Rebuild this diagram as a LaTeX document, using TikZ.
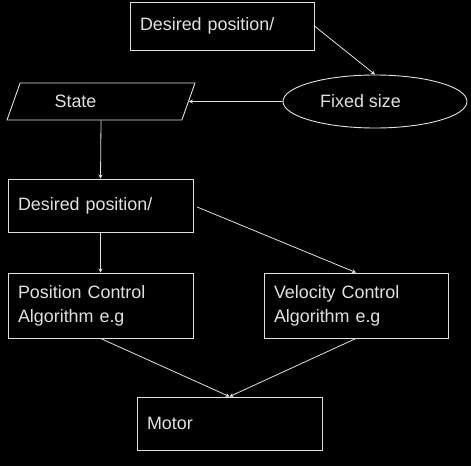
\documentclass[tikz,border=0pt]{standalone}
\usepackage{fontspec}
\setmainfont{Liberation Sans}
\usetikzlibrary{shapes.geometric,arrows.meta}
\definecolor{lc}{RGB}{225,225,225}
\begin{document}
\begin{tikzpicture}[x=1pt,y=-1pt,
  font=\fontsize{17.9}{24}\selectfont,
  every node/.style={text=lc},
  box/.style={draw=lc,line width=0.9pt,rectangle,align=left,inner xsep=10pt,inner ysep=0pt},
  conn/.style={draw=lc,line width=0.8pt,-{Stealth[length=4pt,width=4pt]}}]
\fill[black] (0,0) rectangle (471,466);
\useasboundingbox (0,0) rectangle (471,466);
\node[box,text width=164pt,minimum height=48pt] (b1) at (222,26) {Desired position/};
\node[draw=lc,line width=0.9pt,ellipse,minimum width=184pt,minimum height=53pt,inner sep=0pt] (ell) at (375,101.5) {Fixed size\rule{29pt}{0pt}};
\node[draw=lc,line width=0.9pt,trapezium,trapezium left angle=44,trapezium right angle=136,trapezium stretches body,minimum width=188pt,minimum height=37pt,inner sep=0pt] (st) at (101,101.5) {State\rule{51pt}{0pt}};
\node[box,text width=165pt,minimum height=53pt] (b2) at (100.5,205.5) {Desired position/};
\node[box,text width=165pt,minimum height=65pt] (b3) at (100.5,305.5) {Position Control\\Algorithm e.g};
\node[box,text width=164pt,minimum height=65pt] (b4) at (356,305.5) {Velocity Control\\Algorithm e.g};
\node[box,text width=165pt,minimum height=53pt] (mo) at (229.5,423.5) {Motor};
\draw[conn] (b1.east) -- (ell.north);
\draw[conn] (ell.west) -- (st.east);
\draw[conn] (st.south) -- (b2.north);
\draw[conn] (b2.south) -- (b3.north);
\draw[conn,shorten <=4pt] (b2.east) -- (b4.north);
\draw[conn] (b3.south) -- (mo.north);
\draw[conn] (b4.south) -- (mo.north);
\end{tikzpicture}
\end{document}
